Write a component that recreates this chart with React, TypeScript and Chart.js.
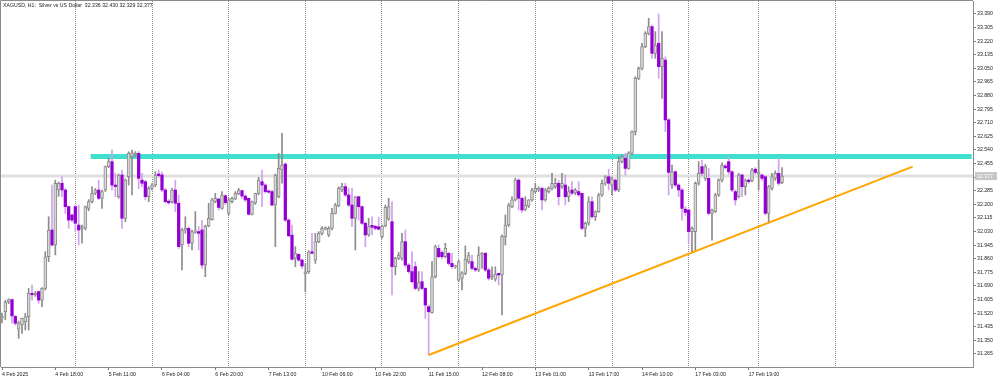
import { useEffect, useRef } from "react";
import { Chart, registerables } from "chart.js";

Chart.register(...registerables);

// ---- DATA (XAGUSD, H1) ----
const opens = [
  31.49, 31.53, 31.59, 31.605, 31.50, 31.42, 31.446, 31.467, 31.498, 31.644,
  31.635, 31.655, 31.602, 31.675, 31.873, 32.040, 31.946, 32.29, 32.332, 32.290,
  32.186, 32.134, 32.186, 32.071, 32.050, 32.050, 32.175, 32.217, 32.27, 32.290,
  32.238, 32.290, 32.436, 32.467, 32.321, 32.248, 32.384, 32.113, 32.373, 32.498,
  32.51, 32.519, 32.352, 32.342, 32.248, 32.300, 32.321, 32.39, 32.384, 32.290,
  32.22, 32.217, 32.290, 32.207, 31.946, 32.040, 32.050, 31.957, 32.025, 32.030,
  32.04, 31.821, 32.065, 32.105, 32.217, 32.233, 32.175, 32.254, 32.144, 32.217,
  32.233, 32.265, 32.286, 32.252, 32.238, 32.138, 32.21, 32.269, 32.342, 32.321,
  32.284, 32.280, 32.196, 32.248, 32.415, 32.452, 32.102, 32.008, 31.863, 31.888,
  31.852, 31.765, 31.779, 31.904, 31.852, 31.967, 32.019, 32.045, 32.009, 32.050,
  32.144, 32.190, 32.29, 32.311, 32.259, 32.196, 32.113, 32.248, 32.186, 32.082,
  32.009, 32.069, 32.063, 32.06, 31.998, 32.065, 32.11, 32.092, 31.811, 31.863,
  31.863, 31.967, 31.821, 31.780, 31.811, 31.675, 31.717, 31.675, 31.561, 31.523,
  31.748, 31.925, 31.90, 31.873, 31.894, 31.831, 31.81, 31.727, 31.738, 31.769,
  31.842, 31.842, 31.80, 31.790, 31.884, 31.894, 31.790, 31.748, 31.733, 31.769,
  31.759, 31.998, 32.071, 32.186, 32.228, 32.352, 32.238, 32.169, 32.19, 32.228,
  32.280, 32.29, 32.300, 32.228, 32.280, 32.300, 32.311, 32.332, 32.311, 32.321,
  32.248, 32.29, 32.272, 32.28, 32.269, 32.050, 32.082, 32.217, 32.123, 32.155,
  32.259, 32.332, 32.373, 32.32, 32.352, 32.290, 32.467, 32.488, 32.425, 32.519,
  32.655, 32.988, 33.050, 33.186, 33.269, 33.311, 33.144, 33.207, 33.061, 33.102,
  32.728, 32.321, 32.404, 32.321, 32.290, 32.17, 32.165, 32.03, 32.030, 32.332,
  32.436, 32.363, 32.363, 32.144, 32.155, 32.259, 32.352, 32.44, 32.467, 32.404,
  32.280, 32.248, 32.384, 32.311, 32.352, 32.346, 32.42, 32.39, 32.384, 32.373,
  32.144, 32.300, 32.363, 32.394, 32.336,
];
const highs = [
  31.52, 31.60, 31.61, 31.61, 31.505, 31.47, 31.49, 31.519, 31.675, 31.696,
  31.655, 31.66, 31.68, 31.905, 32.123, 32.321, 32.352, 32.34, 32.373, 32.30,
  32.19, 32.14, 32.196, 32.196, 32.07, 32.19, 32.23, 32.311, 32.30, 32.352,
  32.29, 32.44, 32.488, 32.540, 32.394, 32.39, 32.415, 32.36, 32.529, 32.540,
  32.53, 32.53, 32.394, 32.35, 32.31, 32.33, 32.404, 32.415, 32.404, 32.30,
  32.23, 32.30, 32.352, 32.259, 32.05, 32.123, 32.06, 32.04, 32.155, 32.061,
  32.10, 32.07, 32.207, 32.238, 32.269, 32.24, 32.280, 32.26, 32.24, 32.245,
  32.28, 32.300, 32.29, 32.26, 32.24, 32.22, 32.27, 32.369, 32.415, 32.33,
  32.29, 32.29, 32.39, 32.519, 32.644, 32.46, 32.11, 32.071, 31.936, 31.89,
  31.86, 31.831, 31.91, 32.019, 32.019, 32.03, 32.061, 32.06, 32.061, 32.175,
  32.207, 32.311, 32.332, 32.332, 32.300, 32.300, 32.25, 32.25, 32.19, 32.09,
  32.113, 32.123, 32.07, 32.12, 32.07, 32.196, 32.238, 32.217, 31.87, 31.90,
  32.019, 32.040, 31.83, 31.905, 31.842, 31.780, 31.780, 31.68, 31.571, 31.842,
  31.946, 31.946, 31.91, 31.957, 31.90, 31.894, 31.82, 31.85, 31.78, 31.94,
  31.90, 31.884, 31.81, 31.936, 31.90, 31.90, 31.80, 31.81, 31.81, 31.77,
  32.01, 32.134, 32.207, 32.248, 32.363, 32.36, 32.245, 32.248, 32.23, 32.30,
  32.332, 32.31, 32.31, 32.30, 32.31, 32.394, 32.363, 32.352, 32.394, 32.384,
  32.311, 32.342, 32.30, 32.342, 32.27, 32.09, 32.248, 32.248, 32.16, 32.27,
  32.352, 32.38, 32.42, 32.37, 32.36, 32.498, 32.51, 32.519, 32.53, 32.66,
  32.998, 33.06, 33.207, 33.280, 33.363, 33.32, 33.280, 33.39, 33.280, 33.123,
  32.738, 32.446, 32.41, 32.33, 32.30, 32.186, 32.17, 32.06, 32.34, 32.467,
  32.477, 32.45, 32.425, 32.17, 32.27, 32.36, 32.46, 32.45, 32.498, 32.41,
  32.29, 32.394, 32.39, 32.36, 32.36, 32.425, 32.43, 32.477, 32.39, 32.38,
  32.32, 32.394, 32.41, 32.488, 32.430,
];
const lows = [
  31.46, 31.48, 31.58, 31.457, 31.446, 31.363, 31.394, 31.415, 31.415, 31.602,
  31.625, 31.582, 31.561, 31.665, 31.842, 31.94, 31.884, 32.25, 32.248, 32.144,
  32.050, 32.09, 32.030, 31.946, 31.957, 32.04, 32.16, 32.21, 32.26, 32.228,
  32.175, 32.28, 32.43, 32.290, 32.248, 32.238, 32.050, 32.092, 32.321, 32.259,
  32.50, 32.300, 32.311, 32.228, 32.217, 32.29, 32.31, 32.37, 32.280, 32.21,
  32.20, 32.207, 32.155, 31.925, 31.790, 32.019, 31.936, 31.915, 32.02, 31.915,
  31.80, 31.748, 32.06, 32.102, 32.21, 32.165, 32.17, 32.20, 32.134, 32.21,
  32.23, 32.26, 32.238, 32.217, 32.134, 32.134, 32.20, 32.26, 32.186, 32.27,
  32.27, 32.19, 31.936, 32.24, 32.332, 32.092, 32.00, 31.852, 31.811, 31.845,
  31.800, 31.655, 31.769, 31.89, 31.831, 31.96, 32.009, 32.04, 31.998, 32.04,
  32.14, 32.186, 32.28, 32.25, 32.186, 32.061, 31.915, 32.102, 32.075, 31.936,
  32.00, 32.009, 32.04, 32.04, 31.988, 32.06, 32.10, 31.634, 31.759, 31.855,
  31.852, 31.81, 31.769, 31.707, 31.665, 31.66, 31.665, 31.488, 31.259, 31.52,
  31.74, 31.865, 31.86, 31.865, 31.821, 31.80, 31.80, 31.717, 31.665, 31.76,
  31.83, 31.79, 31.78, 31.78, 31.80, 31.78, 31.727, 31.73, 31.72, 31.696,
  31.509, 31.946, 32.06, 32.18, 32.22, 32.165, 32.15, 32.16, 32.18, 32.22,
  32.27, 32.28, 32.165, 32.22, 32.27, 32.29, 32.30, 32.196, 32.30, 32.196,
  32.217, 32.26, 32.26, 32.25, 32.040, 31.998, 32.07, 32.113, 32.10, 32.15,
  32.25, 32.32, 32.29, 32.259, 32.28, 32.28, 32.46, 32.384, 32.42, 32.51,
  32.634, 32.98, 33.04, 33.18, 33.259, 33.113, 33.113, 32.988, 32.863, 32.655,
  32.259, 32.30, 32.31, 32.248, 32.102, 32.13, 31.957, 31.90, 31.905, 32.32,
  32.38, 32.35, 32.134, 31.977, 32.15, 32.25, 32.34, 32.42, 32.39, 32.28,
  32.196, 32.24, 32.248, 32.259, 32.33, 32.34, 32.39, 32.29, 32.35, 32.134,
  32.082, 32.29, 32.35, 32.32, 32.329,
];
const closes = [
  31.50, 31.59, 31.605, 31.503, 31.457, 31.46, 31.488, 31.498, 31.644, 31.635,
  31.645, 31.602, 31.675, 31.873, 32.040, 31.946, 32.332, 32.332, 32.290, 32.186,
  32.102, 32.102, 32.082, 32.040, 32.061, 32.186, 32.217, 32.269, 32.29, 32.238,
  32.280, 32.436, 32.467, 32.321, 32.311, 32.384, 32.113, 32.352, 32.519, 32.523,
  32.52, 32.363, 32.332, 32.248, 32.300, 32.321, 32.384, 32.38, 32.290, 32.217,
  32.21, 32.290, 32.207, 31.936, 32.040, 32.050, 31.957, 32.030, 32.035, 32.019,
  31.821, 32.065, 32.113, 32.228, 32.238, 32.181, 32.259, 32.211, 32.228, 32.238,
  32.269, 32.29, 32.252, 32.228, 32.138, 32.217, 32.269, 32.352, 32.321, 32.280,
  32.276, 32.196, 32.384, 32.425, 32.446, 32.102, 32.003, 31.857, 31.894, 31.852,
  31.815, 31.779, 31.904, 31.894, 31.967, 32.019, 32.050, 32.055, 32.050, 32.144,
  32.196, 32.300, 32.311, 32.259, 32.196, 32.113, 32.248, 32.186, 32.082, 32.009,
  32.061, 32.057, 32.050, 32.045, 32.065, 32.181, 32.186, 31.811, 31.863, 31.884,
  31.967, 31.821, 31.780, 31.717, 31.675, 31.711, 31.675, 31.571, 31.529, 31.748,
  31.936, 31.873, 31.873, 31.925, 31.831, 31.811, 31.815, 31.842, 31.773, 31.857,
  31.88, 31.800, 31.79, 31.884, 31.895, 31.790, 31.738, 31.76, 31.765, 31.759,
  32.00, 32.071, 32.196, 32.228, 32.352, 32.238, 32.165, 32.196, 32.228, 32.290,
  32.300, 32.30, 32.228, 32.290, 32.300, 32.332, 32.332, 32.248, 32.332, 32.248,
  32.280, 32.27, 32.29, 32.26, 32.050, 32.082, 32.217, 32.123, 32.155, 32.259,
  32.332, 32.373, 32.332, 32.36, 32.290, 32.467, 32.498, 32.425, 32.523, 32.655,
  32.988, 33.050, 33.186, 33.269, 33.311, 33.144, 33.196, 33.061, 33.113, 32.728,
  32.40, 32.405, 32.321, 32.290, 32.175, 32.15, 32.030, 32.05, 32.332, 32.394,
  32.394, 32.436, 32.144, 32.165, 32.259, 32.352, 32.446, 32.43, 32.404, 32.290,
  32.228, 32.384, 32.311, 32.352, 32.342, 32.415, 32.40, 32.40, 32.363, 32.144,
  32.311, 32.373, 32.394, 32.332, 32.377,
];

const xLabelIdx = [0, 16, 32, 48, 64, 80, 96, 112, 128, 144, 160, 176, 192, 208, 224];
const xLabels = [
  "4 Feb 2025", "4 Feb 18:00", "5 Feb 11:00", "6 Feb 04:00", "6 Feb 20:00",
  "7 Feb 13:00", "10 Feb 06:00", "10 Feb 22:00", "11 Feb 15:00", "12 Feb 08:00",
  "13 Feb 01:00", "13 Feb 17:00", "14 Feb 10:00", "17 Feb 03:00", "17 Feb 19:00",
];
const daySepIdx = [22, 45, 68, 91, 114, 137, 160, 183, 206, 227, 250];
const yTickValues = [
  31.265, 31.35, 31.435, 31.52, 31.605, 31.69, 31.775, 31.86, 31.945, 32.03,
  32.115, 32.2, 32.285, 32.37, 32.455, 32.54, 32.625, 32.71, 32.795, 32.88,
  32.965, 33.05, 33.135, 33.22, 33.305, 33.39,
];

const symbolTitle = "XAGUSD, H1:  Silver vs US Dollar";
const resistanceLevel = 32.5;
const resistanceFrom = 26.6;
const resistanceTo = 290.9;
const trendFrom = { x: 128, y: 31.259 };
const trendTo = { x: 273.2, y: 32.436 };

const X_MIN = -0.3;
const X_MAX = 291.3;
const Y_MIN = 31.18375;
const Y_MAX = 33.47125;

const FONT = '"Liberation Sans", Arial, sans-serif';
const FS = 5.2;

export default function App() {
  const ref = useRef<HTMLCanvasElement | null>(null);

  useEffect(() => {
    document.body.style.margin = "0";
    const canvas = ref.current;
    if (!canvas) return;

    const n = opens.length;
    const all = Array.from({ length: n }, (_, i) => i);
    const bull = all.filter((i) => closes[i] >= opens[i]);
    const bear = all.filter((i) => closes[i] < opens[i]);
    const body = (i: number) => {
      let lo = Math.min(opens[i], closes[i]);
      let hi = Math.max(opens[i], closes[i]);
      const minH = 0.006;
      if (hi - lo < minH) {
        const pad = (minH - (hi - lo)) / 2;
        lo -= pad;
        hi += pad;
      }
      return [lo, hi];
    };
    const last = n - 1;
    const bid = closes[last];
    const titleText = `${symbolTitle}  ${opens[last].toFixed(3)} ${highs[last].toFixed(3)} ${lows[last].toFixed(3)} ${closes[last].toFixed(3)}`;

    const overlay = {
      id: "overlay",
      beforeDatasetsDraw(chart: any) {
        const { ctx, chartArea } = chart;
        ctx.save();
        ctx.fillStyle = "#ffffff";
        ctx.restore();
        void chartArea;
      },
      afterDraw(chart: any) {
        const { ctx, chartArea, scales } = chart;
        ctx.save();
        // frame
        ctx.strokeStyle = "#8a8a8a";
        ctx.lineWidth = 1;
        ctx.beginPath();
        ctx.moveTo(chartArea.left - 0.5, chartArea.bottom);
        ctx.lineTo(chartArea.left - 0.5, chartArea.top - 0.5);
        ctx.lineTo(chartArea.right, chartArea.top - 0.5);
        ctx.stroke();
        // title
        ctx.font = `${FS}px ${FONT}`;
        ctx.fillStyle = "#222";
        ctx.textBaseline = "middle";
        ctx.textAlign = "left";
        ctx.fillText(titleText, chartArea.left + 2, chartArea.top + 5);
        // bid price label
        const py = scales.y.getPixelForValue(bid);
        ctx.fillStyle = "#c6c6c6";
        ctx.fillRect(chartArea.right + 2, py - 4, 22, 8);
        ctx.fillStyle = "#ffffff";
        ctx.fillText(bid.toFixed(3), chartArea.right + 4, py);
        ctx.restore();
      },
    };

    const chart = new Chart(canvas, {
      type: "bar",
      data: {
        datasets: [
          {
            type: "line",
            order: 0,
            data: [trendFrom, trendTo],
            borderColor: "#FFA500",
            borderWidth: 2,
            pointRadius: 0,
            fill: false,
            xAxisID: "x",
            yAxisID: "y",
          } as any,
          {
            type: "bar",
            order: 1,
            data: bull.map((i) => ({ x: i, y: body(i) })),
            backgroundColor: "#d8d8d8",
            borderColor: "#8c8c8c",
            borderWidth: 1,
            borderSkipped: false,
            barThickness: 3,
            grouped: false,
            xAxisID: "x",
            yAxisID: "y",
          } as any,
          {
            type: "bar",
            order: 1,
            data: bear.map((i) => ({ x: i, y: body(i) })),
            backgroundColor: "#9400D3",
            borderWidth: 0,
            barThickness: 2.6,
            grouped: false,
            xAxisID: "x",
            yAxisID: "y",
          } as any,
          {
            type: "bar",
            order: 2,
            data: bull.map((i) => ({ x: i, y: [lows[i], highs[i]] })),
            backgroundColor: "#8c8c8c",
            borderWidth: 0,
            barThickness: 1,
            grouped: false,
            xAxisID: "x",
            yAxisID: "y",
          } as any,
          {
            type: "bar",
            order: 2,
            data: bear.map((i) => ({ x: i, y: [lows[i], highs[i]] })),
            backgroundColor: "#d2a0ec",
            borderWidth: 0,
            barThickness: 1,
            grouped: false,
            xAxisID: "x",
            yAxisID: "y",
          } as any,
          {
            type: "line",
            order: 3,
            data: [
              { x: resistanceFrom, y: resistanceLevel },
              { x: resistanceTo, y: resistanceLevel },
            ],
            borderColor: "#40E0D0",
            borderWidth: 5,
            pointRadius: 0,
            fill: false,
            xAxisID: "x",
            yAxisID: "y",
          } as any,
          {
            type: "line",
            order: 4,
            data: [
              { x: X_MIN, y: bid },
              { x: X_MAX, y: bid },
            ],
            borderColor: "#e0e0e0",
            borderWidth: 3,
            pointRadius: 0,
            fill: false,
            xAxisID: "x",
            yAxisID: "y",
          } as any,
        ],
      },
      options: {
        animation: false,
        responsive: false,
        devicePixelRatio: 1,
        events: [],
        layout: { padding: { left: 1, top: 1, right: 0, bottom: 0 } },
        plugins: {
          legend: { display: false },
          tooltip: { enabled: false },
          title: { display: false },
        },
        scales: {
          x: {
            type: "linear",
            position: "bottom",
            min: X_MIN,
            max: X_MAX,
            offset: false,
            afterBuildTicks: (s: any) => {
              s.ticks = xLabelIdx.map((v) => ({ value: v }));
            },
            afterFit: (s: any) => {
              s.height = 11;
              s.paddingLeft = 0;
              s.paddingRight = 0;
            },
            ticks: {
              autoSkip: false,
              maxRotation: 0,
              minRotation: 0,
              align: "start",
              padding: 1,
              color: "#222",
              font: { family: FONT, size: FS },
              callback: (v: any) => {
                const k = xLabelIdx.indexOf(Number(v));
                return k >= 0 ? xLabels[k] : "";
              },
            },
            grid: {
              display: true,
              drawOnChartArea: false,
              drawTicks: true,
              tickLength: 3,
              color: "#777",
              offset: false,
            },
            border: { display: true, color: "#8a8a8a", width: 1 },
          } as any,
          x2: {
            type: "linear",
            position: "top",
            display: true,
            min: X_MIN,
            max: X_MAX,
            offset: false,
            afterBuildTicks: (s: any) => {
              s.ticks = daySepIdx.map((v) => ({ value: v }));
            },
            afterFit: (s: any) => {
              s.height = 0;
              s.paddingLeft = 0;
              s.paddingRight = 0;
            },
            ticks: { display: false },
            grid: {
              drawOnChartArea: true,
              drawTicks: false,
              color: "#8f8f8f",
              lineWidth: 1,
              offset: false,
            },
            border: { display: false, dash: [1, 1] },
          } as any,
          y: {
            type: "linear",
            position: "right",
            min: Y_MIN,
            max: Y_MAX,
            afterBuildTicks: (s: any) => {
              s.ticks = yTickValues.map((v) => ({ value: v }));
            },
            afterFit: (s: any) => {
              s.width = 27;
              s.paddingTop = 0;
              s.paddingBottom = 0;
            },
            ticks: {
              padding: 1,
              color: "#222",
              font: { family: FONT, size: FS },
              callback: (v: any) => Number(v).toFixed(3),
            },
            grid: {
              drawOnChartArea: false,
              drawTicks: true,
              tickLength: 3,
              color: "#777",
            },
            border: { display: true, color: "#8a8a8a", width: 1 },
          } as any,
        },
      },
      plugins: [overlay],
    } as any);

    return () => chart.destroy();
  }, []);

  return (
    <div style={{ width: 1000, height: 378, background: "#fff" }}>
      <canvas ref={ref} width={1000} height={378} style={{ display: "block" }} />
    </div>
  );
}
